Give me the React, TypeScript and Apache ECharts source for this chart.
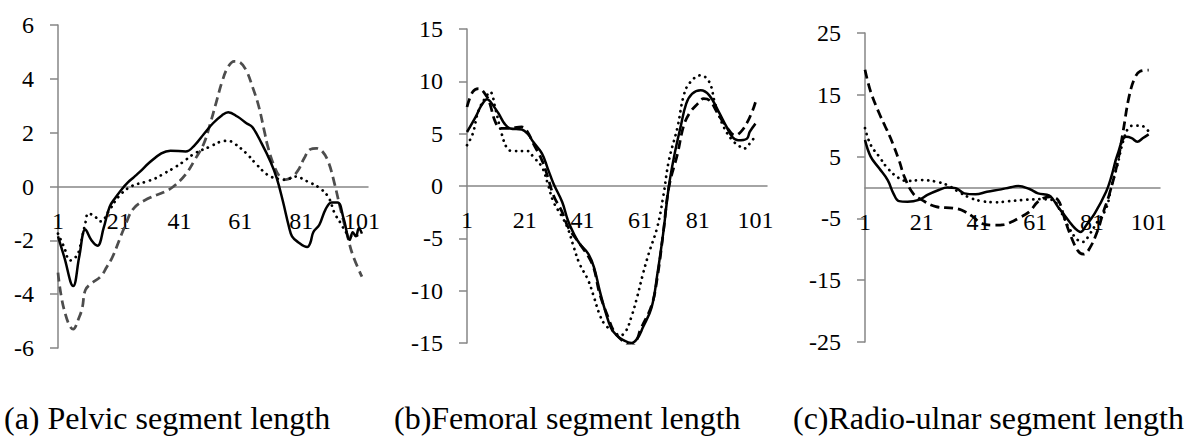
import React, { useEffect, useRef } from "react";
import * as echarts from "echarts";

// ---- data: [percent of cycle, value] ----
const xTickValues = [1, 21, 41, 61, 81, 101];
const pelvicTicks = [-6, -4, -2, 0, 2, 4, 6];
const femoralTicks = [-15, -10, -5, 0, 5, 10, 15];
const radioTicks = [-25, -15, -5, 5, 15, 25];

const captions = [
  "(a) Pelvic segment length",
  "(b)Femoral segment length",
  "(c)Radio-ulnar segment length",
];

const pelvicSolid = [
  [1, -1.85], [3, -2.6], [6, -3.7], [8, -2.6], [10, -1.6], [12, -2.0], [14, -2.2], [16, -1.55],
  [18, -0.75], [20, -0.4], [22, -0.1], [24, 0.15], [26, 0.35], [28, 0.55], [31, 0.88], [35, 1.23],
  [38, 1.33], [43, 1.3], [46, 1.54], [49, 1.95], [52, 2.35], [55, 2.65], [57, 2.76], [60, 2.6],
  [63, 2.35], [65, 2.2], [68, 1.6], [71, 0.9], [73, 0.3], [75, -0.55], [77, -1.5], [78, -1.85],
  [80, -2.07], [83, -2.25], [84, -2.1], [85, -1.7], [87, -1.42], [89, -0.86], [91, -0.59],
  [93, -0.59], [95, -1.2], [97, -1.98], [98, -1.7], [99, -1.85], [100, -1.55], [101, -1.75],
];
const pelvicDotted = [
  [1, -1.75], [3, -2.25], [5, -2.75], [7, -2.6], [8, -2.35], [10, -1.36], [11, -1.0], [13, -1.1],
  [15, -1.3], [18, -0.86], [21, -0.37], [25, 0.0], [30, 0.18], [33, 0.3], [36, 0.49], [39, 0.68],
  [42, 0.9], [46, 1.23], [51, 1.48], [55, 1.68], [57, 1.7], [59, 1.6], [63, 1.23], [66, 0.86],
  [70, 0.43], [74, 0.27], [76, 0.25], [79, 0.37], [83, 0.19], [87, -0.05], [90, -0.4], [92, -0.99],
  [94, -1.36], [96, -1.73], [98, -1.85], [101, -1.75],
];
const pelvicDashed = [
  [1, -3.2], [3, -4.57], [6, -5.3], [8, -4.85], [9, -4.5], [10, -3.85], [12, -3.6], [15, -3.35],
  [17, -3.0], [19, -2.6], [23, -1.48], [26, -0.8], [31, -0.43], [36, -0.2], [39, 0.0], [43, 0.45],
  [46, 0.99], [49, 1.6], [51, 2.3], [53, 3.1], [55, 3.9], [57, 4.45], [59, 4.65], [61, 4.6],
  [63, 4.3], [65, 3.7], [67, 3.0], [69, 2.0], [70, 1.5], [72, 0.8], [74, 0.37], [76, 0.26],
  [78, 0.35], [80, 0.6], [82, 1.05], [84, 1.38], [86, 1.42], [88, 1.3], [90, 0.9], [92, 0.1],
  [94, -0.86], [96, -1.73], [98, -2.55], [101, -3.35],
];

const femoralSolid = [
  [1, 5.16], [4, 6.6], [6, 7.7], [8, 8.3], [9, 8.1], [12, 6.9], [14, 5.96], [16, 5.5], [20, 5.4],
  [22, 5.0], [24, 4.2], [27, 3.1], [29, 1.66], [31, 0.22], [34, -1.53], [36, -3.3], [38, -4.55],
  [40, -5.5], [43, -6.46], [45, -7.74], [47, -10.0], [49, -12.0], [51, -13.6], [53, -14.3],
  [55, -14.7], [58, -15.0], [60, -14.6], [62, -13.5], [65, -11.6], [67, -8.4], [69, -4.55],
  [71, 0.0], [73, 3.1], [75, 5.6], [77, 7.87], [79, 8.8], [82, 9.14], [85, 8.66], [88, 7.23],
  [91, 5.64], [93, 4.68], [95, 4.36], [98, 4.52], [99, 5.16], [101, 5.96],
];
const femoralDotted = [
  [1, 3.9], [3, 5.0], [5, 7.2], [8, 8.7], [9, 9.0], [11, 7.2], [13, 5.0], [15, 3.57], [17, 3.34],
  [22, 3.34], [24, 2.77], [27, 1.8], [29, 0.22], [31, -1.53], [34, -2.96], [36, -4.08], [38, -5.83],
  [40, -7.42], [43, -9.0], [45, -10.6], [47, -12.3], [49, -13.3], [52, -13.9], [54, -14.3],
  [56, -13.9], [58, -12.5], [60, -10.6], [62, -8.4], [64, -6.46], [67, -3.9], [69, -1.05],
  [71, 2.45], [74, 5.64], [76, 8.5], [78, 9.78], [82, 10.57], [85, 9.94], [87, 7.87], [90, 5.64],
  [93, 4.36], [95, 3.9], [97, 3.57], [99, 4.05], [101, 4.8],
];
const femoralDashed = [
  [1, 7.55], [3, 9.0], [5, 9.3], [8, 8.5], [9, 7.8], [11, 6.0], [13, 5.5], [15, 5.5], [20, 5.64],
  [22, 5.16], [24, 4.05], [27, 2.45], [29, 0.86], [31, -0.9], [34, -2.5], [36, -3.9], [40, -5.5],
  [43, -6.7], [45, -7.9], [47, -10.3], [50, -12.6], [52, -13.9], [55, -14.8], [58, -15.25],
  [60, -14.6], [61, -13.8], [65, -11.4], [67, -8.7], [69, -4.55], [71, -0.1], [74, 3.1],
  [76, 5.64], [78, 6.9], [81, 7.87], [83, 8.34], [85, 8.2], [88, 6.9], [91, 5.64], [94, 4.84],
  [96, 5.2], [98, 6.0], [100, 7.2], [101, 8.0],
];

const radioSolid = [
  [1, 7.7], [3, 5.0], [6, 3.1], [9, 1.2], [11, -0.95], [13, -2.2], [16, -2.3], [20, -2.0],
  [23, -1.2], [27, -0.4], [30, 0.0], [33, -0.1], [36, -0.95], [40, -1.1], [44, -0.7], [49, -0.3],
  [52, 0.0], [55, 0.24], [59, -0.25], [62, -0.95], [66, -1.3], [69, -3.1], [73, -5.5], [75, -6.6],
  [77, -7.2], [79, -6.1], [82, -4.2], [86, -0.7], [88, 2.0], [90, 5.3], [93, 8.2], [95, 8.0],
  [97, 7.4], [99, 8.0], [101, 8.6],
];
const radioDotted = [
  [1, 9.6], [3, 6.9], [6, 5.0], [9, 3.1], [13, 1.5], [16, 1.05], [21, 1.2], [26, 0.95], [30, 0.4],
  [34, -0.7], [38, -1.65], [42, -2.2], [47, -2.4], [51, -2.25], [57, -2.0], [63, -1.9], [67, -2.0],
  [70, -3.9], [73, -6.6], [76, -8.5], [78, -8.8], [80, -7.7], [83, -5.5], [86, -3.4], [88, 0.4],
  [90, 3.65], [92, 7.5], [94, 9.7], [96, 10.0], [99, 9.9], [101, 9.05],
];
const radioDashed = [
  [1, 19.05], [3, 15.5], [6, 12.0], [8, 10.0], [10, 8.0], [13, 4.4], [15, 1.6], [18, -1.0],
  [21, -2.0], [26, -3.1], [32, -3.35], [35, -3.65], [39, -4.7], [42, -5.8], [47, -6.1], [50, -6.0],
  [53, -5.5], [55, -5.0], [59, -3.9], [62, -2.3], [66, -1.5], [69, -2.0], [71, -4.5], [73, -7.2],
  [76, -10.2], [78, -10.8], [80, -10.0], [83, -7.0], [85, -4.0], [87, -1.3], [90, 4.0], [92, 9.1],
  [94, 14.5], [96, 17.6], [98, 18.8], [101, 19.0],
];

const FONT = "'Liberation Serif', 'Times New Roman', serif";
const AXIS_GRAY = "#868686";

export default function App() {
  const ref = useRef<HTMLDivElement>(null);

  useEffect(() => {
    if (!ref.current) return;
    const chart = echarts.init(ref.current, undefined, { renderer: "svg" });

    const panels = [
      { grid: { left: 58, top: 25, width: 310, height: 323 }, xMax: 103, ticks: pelvicTicks,
        series: [pelvicSolid, pelvicDotted, pelvicDashed], dashColor: "#4d4d4d" },
      { grid: { left: 467, top: 29, width: 300, height: 314 }, xMax: 105, ticks: femoralTicks,
        series: [femoralSolid, femoralDotted, femoralDashed], dashColor: "#000" },
      { grid: { left: 865, top: 33, width: 295, height: 309 }, xMax: 105, ticks: radioTicks,
        series: [radioSolid, radioDotted, radioDashed], dashColor: "#000" },
    ];

    const grid = panels.map((p) => ({ ...p.grid, containLabel: false }));
    const xAxis = panels.map((p, i) => {
      const yMin = p.ticks[0];
      const yMax = p.ticks[p.ticks.length - 1];
      // place the category axis (line + labels) at y = 0 of the value scale
      const zeroOffset = -p.grid.height * ((0 - yMin) / (yMax - yMin));
      return {
        type: "value",
        gridIndex: i,
        min: 1,
        max: p.xMax,
        position: "bottom",
        offset: zeroOffset,
        axisLine: { onZero: false, lineStyle: { color: AXIS_GRAY, width: 1.5 } },
        axisTick: { show: false },
        splitLine: { show: false },
        axisLabel: {
          customValues: xTickValues,
          fontFamily: FONT,
          fontSize: 24,
          color: "#000",
          margin: 22,
        },
      };
    });
    const yAxis = panels.map((p, i) => ({
      type: "value",
      gridIndex: i,
      min: p.ticks[0],
      max: p.ticks[p.ticks.length - 1],
      axisLine: { show: true, onZero: false, lineStyle: { color: AXIS_GRAY, width: 1.5 } },
      axisTick: { show: true, length: 8, customValues: p.ticks, lineStyle: { color: AXIS_GRAY, width: 1.5 } },
      splitLine: { show: false },
      axisLabel: {
        customValues: p.ticks,
        fontFamily: FONT,
        fontSize: 24,
        color: "#000",
        margin: 24,
      },
    }));

    const series: any[] = [];
    panels.forEach((p, i) => {
      const [solid, dotted, dashed] = p.series;
      series.push({
        type: "line", xAxisIndex: i, yAxisIndex: i, data: dashed, showSymbol: false, symbol: "none",
        smooth: 0.4, lineStyle: { color: p.dashColor, width: 2.75, type: [9, 5] },
      });
      series.push({
        type: "line", xAxisIndex: i, yAxisIndex: i, data: dotted, showSymbol: false, symbol: "none",
        smooth: 0.4, lineStyle: { color: "#000", width: 2.75, type: [0.1, 6], cap: "round" },
      });
      series.push({
        type: "line", xAxisIndex: i, yAxisIndex: i, data: solid, showSymbol: false, symbol: "none",
        smooth: 0.4, lineStyle: { color: "#000", width: 2.5 },
      });
    });

    const captionX = [4, 394, 793];
    const graphic = captions.map((t, i) => ({
      type: "text",
      x: captionX[i],
      y: 418,
      style: {
        text: t,
        fontFamily: FONT,
        fontSize: 32,
        fill: "#000",
        align: "left",
        verticalAlign: "middle",
      },
    }));

    chart.setOption({
      animation: false,
      backgroundColor: "#fff",
      grid,
      xAxis,
      yAxis,
      series,
      graphic,
    });

    return () => chart.dispose();
  }, []);

  return (
    <div
      ref={ref}
      style={{ position: "fixed", left: 0, top: 0, width: 1186, height: 436, background: "#fff" }}
    />
  );
}
